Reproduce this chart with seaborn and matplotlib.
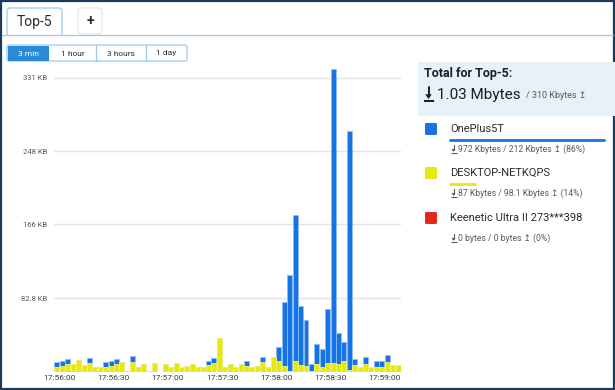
"""Top-5 hosts traffic chart: stacked 3-second bars plus a summary panel."""

import matplotlib

matplotlib.use("Agg")
import matplotlib.pyplot as plt
import pandas as pd
import seaborn as sns
from matplotlib.patches import FancyBboxPatch, Polygon, Rectangle

# one bar every 3 seconds, 17:55:57 .. 17:59:06
DESKTOP_KB = [
    5.6, 6.0, 8.7, 8.7, 13.2, 7.6, 9.4, 5.6, 5.6, 5.6,
    6.0, 8.7, 10.9, 0.4, 10.9, 5.3, 8.1, 0.4, 9.6, 0.0,
    9.0, 5.6, 10.1, 5.6, 6.4, 7.9, 5.6, 5.6, 7.1, 9.4,
    38.0, 5.6, 8.5, 4.8, 7.9, 6.0, 4.8, 6.0, 10.5, 5.6,
    16.9, 11.3, 6.0, 0.8, 11.3, 6.8, 6.0, 0.8, 8.1, 5.6,
    9.4, 10.1, 8.7, 11.3, 1.9, 6.8, 5.6, 8.2, 5.6, 5.6,
    5.6, 10.5, 7.6, 7.6,
]
ONEPLUS_KB = [
    5.6, 6.0, 5.6, 0.0, 0.0, 0.0, 6.2, 0.0, 0.0, 5.6,
    6.2, 5.6, 0.0, 0.0, 6.4, 0.0, 0.0, 0.0, 0.0, 0.0,
    0.0, 0.0, 0.0, 0.0, 0.0, 0.0, 0.0, 0.0, 5.1, 5.6,
    0.0, 0.0, 0.0, 0.0, 0.0, 5.3, 0.0, 0.0, 6.4, 0.0,
    0.0, 16.1, 72.6, 108.2, 164.9, 67.3, 51.5, 7.9, 23.1, 19.9,
    61.3, 331.0, 34.5, 22.5, 268.6, 6.8, 0.0, 8.7, 0.0, 6.0,
    6.0, 7.9, 0.0, 0.0,
]
TIME_LABELS = ["17:56:00", "17:56:30", "17:57:00", "17:57:30", "17:58:00", "17:58:30", "17:59:00"]
Y_TICKS = [82.8, 166, 248, 331]
Y_LABELS = ["82.8 KB", "166 KB", "248 KB", "331 KB"]
RANGES = ["3 min", "1 hour", "3 hours", "1 day"]
HOSTS = ["OnePlus5T", "DESKTOP-NETKQPS", "Keenetic Ultra II 273***398"]
HOST_STATS = ["972 Kbytes / 212 Kbytes", "87 Kbytes / 98.1 Kbytes", "0 bytes / 0 bytes"]
HOST_SHARE = ["86%", "14%", "0%"]

BLUE = "#1573e6"
YELLOW = "#e8e80c"
RED = "#e4261c"
TEXT = "#2b2b2b"
GREY = "#5a5a5a"
LINE = "#9cc8ec"

sns.set_style("white")
plt.rcParams["font.family"] = ["Roboto", "DejaVu Sans"]

fig = plt.figure(figsize=(6.15, 3.9), dpi=100)

# page layer in pixel coordinates
page = fig.add_axes([0, 0, 1, 1])
page.set_xlim(0, 615)
page.set_ylim(390, 0)
page.axis("off")


def download_icon(cx, base, width, height, color, lw):
    # "arrow down to bar" - no installed font has this glyph
    page.plot([cx - width / 2, cx + width / 2], [base, base], color=color, lw=lw,
              solid_capstyle="butt")
    page.plot([cx, cx], [base - height, base - height * 0.4], color=color, lw=lw)
    page.add_patch(Polygon([(cx - width * 0.33, base - height * 0.48),
                            (cx + width * 0.33, base - height * 0.48),
                            (cx, base - height * 0.14)], closed=True,
                           facecolor=color, edgecolor="none"))


page.add_patch(Rectangle((1, 1), 613, 388, fill=False, edgecolor="#1b3b5c", lw=1.6))
page.plot([2, 613], [34.5, 34.5], color=LINE, lw=0.9)
page.add_patch(FancyBboxPatch((7, 8), 55, 28, boxstyle="round,pad=0,rounding_size=3",
                              facecolor="white", edgecolor=LINE, lw=0.9))
page.add_patch(Rectangle((7.6, 33), 53.8, 4, facecolor="white", edgecolor="none"))
page.text(34.5, 22, "Top-5", ha="center", va="center", fontsize=10, color=TEXT)
page.add_patch(FancyBboxPatch((78, 8), 24, 26, boxstyle="round,pad=0,rounding_size=3",
                              facecolor="white", edgecolor="#d8e8f5", lw=0.8))
page.text(90, 21, "+", ha="center", va="center", fontsize=10, color=TEXT, fontweight="bold")

# time range buttons
edges = [7, 49, 96, 146, 187]
page.add_patch(FancyBboxPatch((7, 45), 180, 16, boxstyle="round,pad=0,rounding_size=2",
                              facecolor="white", edgecolor=LINE, lw=0.9))
page.add_patch(Rectangle((7.5, 45.5), 41.5, 15, facecolor="#2b8ad6", edgecolor="none"))
for x in edges[2:-1]:
    page.plot([x, x], [45, 61], color=LINE, lw=0.9)
for i, label in enumerate(RANGES):
    page.text((edges[i] + edges[i + 1]) / 2, 53.5, label, ha="center", va="center",
              fontsize=6, color="white" if i == 0 else TEXT)

# summary panel
page.add_patch(Rectangle((418, 62), 197, 54, facecolor="#e6f1fa", edgecolor="none"))
page.text(424, 74, "Total for Top-5:", ha="left", va="center", fontsize=9,
          fontweight="bold", color="#1e1e1e")
download_icon(428.5, 101, 10, 14, "#1e1e1e", 1.4)
page.text(437, 95, "1.03 Mbytes", ha="left", va="center", fontsize=11, color="#1e1e1e")
page.text(526, 96, "/ 310 Kbytes \u21a5", ha="left", va="center", fontsize=6.5, color=GREY)

legend_y = [129, 173, 218]
colors = [BLUE, YELLOW, RED]
for y, host, stats, share, color in zip(legend_y, HOSTS, HOST_STATS, HOST_SHARE, colors):
    page.add_patch(FancyBboxPatch((425, y - 6), 12, 12, boxstyle="round,pad=0,rounding_size=1.5",
                                  facecolor=color, edgecolor="none"))
    page.text(450, y, host, ha="left", va="center", fontsize=8, color=TEXT)
    download_icon(453.5, y + 24, 6, 8.5, GREY, 0.8)
    page.text(458, y + 20, f"{stats} \u21a5 ({share})", ha="left", va="center",
              fontsize=6.2, color=GREY)
page.plot([450, 604], [139.5, 139.5], color=BLUE, lw=2, solid_capstyle="round")
page.plot([450, 475], [183.5, 183.5], color=YELLOW, lw=2, solid_capstyle="round")

# chart
bars = pd.DataFrame({
    "slot": range(len(DESKTOP_KB)),
    "desktop": DESKTOP_KB,
    "total": [a + b for a, b in zip(DESKTOP_KB, ONEPLUS_KB)],
})

ax = fig.add_axes([54 / 615, 1 - 371.5 / 390, 347 / 615, (371.5 - 68) / 390])
ax.patch.set_alpha(0)
sns.barplot(data=bars, x="slot", y="total", color=BLUE, saturation=1, width=0.92,
            edgecolor="#8fbdf4", linewidth=0.6, ax=ax, zorder=3)
sns.barplot(data=bars, x="slot", y="desktop", color=YELLOW, saturation=1, width=0.92,
            edgecolor="#f3f37a", linewidth=0.6, ax=ax, zorder=4)

ax.set_xlim(-0.55, 63.55)
ax.set_ylim(0, 342)
ax.set_yticks(Y_TICKS, Y_LABELS)
ax.set_xticks([0.5 + 10 * k for k in range(len(TIME_LABELS))], TIME_LABELS)
ax.grid(axis="y", color="#e3e3e3", lw=1, zorder=0)
ax.grid(axis="x", visible=False)
ax.tick_params(axis="y", length=0, pad=5, labelsize=5.5, labelcolor=GREY)
ax.tick_params(axis="x", length=0, pad=2.5, labelsize=6, labelcolor="#3a3a3a")
ax.set_xlabel("")
ax.set_ylabel("")
sns.despine(ax=ax, left=True, bottom=True)

fig.savefig("out.png", dpi=100)
